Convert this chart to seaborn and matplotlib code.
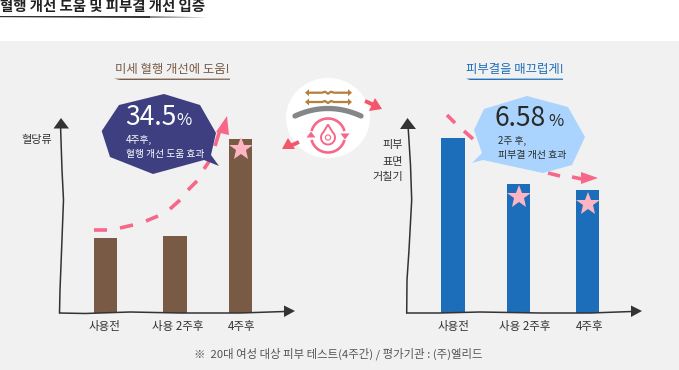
import numpy as np
import matplotlib
matplotlib.use('Agg')
import matplotlib.pyplot as plt
import seaborn as sns
from matplotlib.patches import Rectangle, Polygon, Ellipse, Circle

# Chart values (bar heights, no axis scale shown)
stages = ['사용전', '사용 2주후', '4주후']
blood_flow = [75, 77, 174]
roughness = [175, 129, 123]

W, H = 679, 370
BROWN = '#785a45'
BLUE = '#1c6dba'
NAVY = '#3d3f80'
SKY = '#aad4fd'
PINK = '#f6678a'
RED = '#f4566b'
STAR = '#fdb5c4'
GOLD = '#b57f3c'
INK = '#333333'

sns.set_theme(style='white')
plt.rcParams['font.family'] = ['Noto Sans CJK KR', 'DejaVu Sans']

fig = plt.figure(figsize=(W / 100, H / 100), dpi=100, facecolor='white')
fig.add_artist(Rectangle((0, 0), 1, (H - 41) / H, transform=fig.transFigure,
                         facecolor='#f1f1f1', edgecolor='none', zorder=-5))


def draw_bars(values, color, px_left, px_right, centers, label_centers, stars):
    # axes placed in pixels, one y unit is one pixel
    base, top = 313, 120
    ax = fig.add_axes([px_left / W, (H - base) / H, (px_right - px_left) / W, (base - top) / H])
    ax.patch.set_alpha(0)
    sns.barplot(x=stages, y=values, color=color, saturation=1, width=0.348, linewidth=0, ax=ax)
    step = (centers[2] - centers[0]) / 2
    to_x = lambda px: (px - centers[0]) / step
    ax.set_xlim(to_x(px_left), to_x(px_right))
    ax.set_ylim(0, base - top)
    # the middle bar is not quite evenly spaced
    for i, bar in enumerate(ax.patches):
        bar.set_x(to_x(centers[i]) - bar.get_width() / 2)
    ax.set_xticks([to_x(p) for p in label_centers])
    ax.set_xticklabels(stages, fontsize=8.3, color='#333333')
    ax.tick_params(axis='x', length=0, pad=5)
    ax.set_yticks([])
    ax.set_xlabel('')
    ax.set_ylabel('')
    sns.despine(ax=ax, left=True, bottom=True)
    for i, drop, star_x in stars:
        ax.plot(to_x(star_x), values[i] - drop, marker='*', ms=18, color=STAR,
                mew=0, clip_on=False)
    return ax


draw_bars(blood_flow, BROWN, 60, 295, [105.7, 175, 240.7], [105, 177.5, 242], [(2, 10, 241)])
draw_bars(roughness, BLUE, 407, 642, [453, 518.7, 587.6], [453.5, 525, 590],
          [(1, 13, 519), (2, 14, 588)])

# overlay in pixel coordinates for the drawn decoration
ov = fig.add_axes([0, 0, 1, 1], zorder=5)
ov.set_xlim(0, W)
ov.set_ylim(H, 0)
ov.axis('off')


def poly(points, color, z=3):
    ov.add_patch(Polygon(points, closed=True, facecolor=color, edgecolor='none', zorder=z))


def stroke(points, color, lw, cap='butt', z=2):
    pts = np.array(points, dtype=float)
    ov.plot(pts[:, 0], pts[:, 1], color=color, lw=lw, solid_capstyle=cap, zorder=z)


# title and underlines
ov.text(0, 6.5, '혈행 개선 도움 및 피부결 개선 입증', fontsize=10.4, fontweight='bold', color='#222222',
        ha='left', va='center')
poly([(0, 16), (150, 16), (150, 18), (0, 17.2)], '#333333')
poly([(150, 16), (207, 17.3), (150, 18)], '#8a8a8a')

ov.text(172.5, 70, '미세 혈행 개선에 도움!', fontsize=8.9, color=BROWN, fontweight='medium',
        ha='center', va='center')
poly([(114, 78.6), (230, 78.6), (230, 79.8), (120, 80)], BROWN)
ov.text(514.5, 70, '피부결을 매끄럽게!', fontsize=8.9, color=BLUE, fontweight='medium',
        ha='center', va='center')
poly([(466, 78.6), (563, 78.6), (563, 79.8), (470, 80)], BLUE)

# hand drawn axes
left_v = [(59.5, 313), (60, 290), (61, 265), (63.5, 200), (62, 170), (61, 140), (60.5, 125)]
left_h = [(59.5, 313), (85, 313.5), (130, 312), (180, 313), (240, 313), (285, 311.5)]
right_v = [(406.7, 313), (407, 280), (409, 250), (411.7, 200), (410.5, 165), (408, 125)]
right_h = [(406.7, 313), (440, 313), (480, 312), (540, 313), (590, 313), (632, 311.5)]
for line in [left_v, left_h, right_v, right_h]:
    stroke(line, INK, 1.1, 'round', z=4)
poly([(61, 118), (53.5, 128.5), (69, 128.5)], INK)
poly([(407.5, 118), (400, 129), (416, 129)], INK)
poly([(284, 305.5), (295, 311), (284, 317)], INK)
poly([(631, 305.5), (642, 311), (631, 317)], INK)

ov.text(37, 140, '혈당류', fontsize=8, color=INK, ha='center', va='center')
for y, s in [(145, '피부'), (162, '표면'), (177, '거칠기')]:
    ov.text(403, y, s, fontsize=8, color=INK, ha='right', va='center')

# dashed trend arrows
left_dashes = [[(94, 230), (107, 230)], [(120, 228), (133, 225)], [(146, 221), (158, 216)],
               [(170, 209), (180, 200)], [(188, 190), (197, 181)], [(204, 169), (210, 160)],
               [(215, 146), (220, 130)]]
right_dashes = [[(447, 115), (455, 123)], [(464, 131), (473, 139)], [(548, 173), (560, 176)],
                [(572, 177), (582, 179)]]
for seg in left_dashes:
    stroke(seg, PINK, 2.6)
for seg in right_dashes:
    stroke(seg, PINK, 2.6)
poly([(227, 116), (216, 132), (229, 135)], PINK)
poly([(598, 178), (581, 172), (581, 184)], PINK)

# speech bubbles
poly([(101.7, 131), (119, 105), (164, 94), (200, 105), (216, 133), (211, 155), (219, 166),
      (204, 160), (153, 174), (110, 157)], NAVY, z=6)
poly([(474, 130), (484, 109), (527, 96), (568, 107), (585, 137), (572, 165), (543, 173),
      (483, 160), (472, 163), (482, 153)], SKY, z=6)

ov.text(125, 117.5, '34.5', fontsize=19, color='white', fontweight='light', ha='left', va='center', zorder=7)
ov.text(176.5, 120.5, '%', fontsize=12, color='white', fontweight='light', ha='left', va='center', zorder=7)
ov.text(125.5, 139.5, '4주후,', fontsize=7, color='white', fontweight='medium', ha='left', va='center', zorder=7)
ov.text(125.5, 153.5, '혈행 개선 도움 효과', fontsize=7, color='white', fontweight='medium', ha='left', va='center', zorder=7)
ov.text(495, 119, '6.58', fontsize=19, color='#2a2a2a', fontweight='light', ha='left', va='center', zorder=7)
ov.text(548.5, 122, '%', fontsize=12, color='#2a2a2a', fontweight='light', ha='left', va='center', zorder=7)
ov.text(498, 141, '2주 후,', fontsize=7, color='#2a2a2a', fontweight='medium', ha='left', va='center', zorder=7)
ov.text(498, 155, '피부결 개선 효과', fontsize=7.2, color='#2a2a2a', fontweight='medium', ha='left', va='center', zorder=7)

# skin icon in the middle
ov.add_patch(Ellipse((328, 118), 84, 80, facecolor='white', edgecolor='none', zorder=1))
for y in [92.7, 102]:
    stroke([(308, y), (322, y), (325, y - 1), (328, y + 1), (331, y - 1), (334, y), (349, y)], GOLD, 1.6, z=3)
    poly([(305, y), (309, y - 3.5), (309, y + 3.5)], GOLD)
    poly([(352, y), (348, y - 3.5), (348, y + 3.5)], GOLD)
t = np.linspace(-1, 1, 30)
stroke(np.column_stack([328 + 33 * t, 108.5 + 7.5 * t ** 2]), '#85868a', 3.8, 'round', z=3)

cx, cy, r = 328, 135.5, 17
for a0, a1 in [(-165, -15), (15, 165)]:
    a = np.radians(np.linspace(a0, a1, 40))
    stroke(np.column_stack([cx + r * np.cos(a), cy + r * np.sin(a)]), PINK, 1.9, z=3)
poly([(cx + r - 4.5, cy - 2), (cx + r + 4.5, cy - 2), (cx + r, cy + 4)], PINK)
poly([(cx - r - 4.5, cy + 2), (cx - r + 4.5, cy + 2), (cx - r, cy - 4)], PINK)
# water drop, tip on top
a = np.radians(np.linspace(50, -230, 40))
drop = np.vstack([[(cx, cy - 11)], np.column_stack([cx + 7 * np.cos(a), cy + 2 - 7 * np.sin(a)]), [(cx, cy - 11)]])
stroke(drop, PINK, 1.4, z=3)
ov.add_patch(Circle((cx, cy + 2), 2.6, facecolor='none', edgecolor=PINK, lw=0.8, zorder=3))

# arrows leaving the icon
stroke([(365, 101), (374, 105)], RED, 2.8)
poly([(382, 109), (369, 111), (375, 98)], RED)
stroke([(299, 142), (290, 146)], RED, 2.8)
poly([(282, 149), (295, 149), (288, 138)], RED)

ov.text(338, 354, '※  20대 여성 대상 피부 테스트(4주간) / 평가기관 : (주)엘리드', fontsize=8.2,
        color='#555555', ha='center', va='center')

plt.savefig('out.png', dpi=100)
